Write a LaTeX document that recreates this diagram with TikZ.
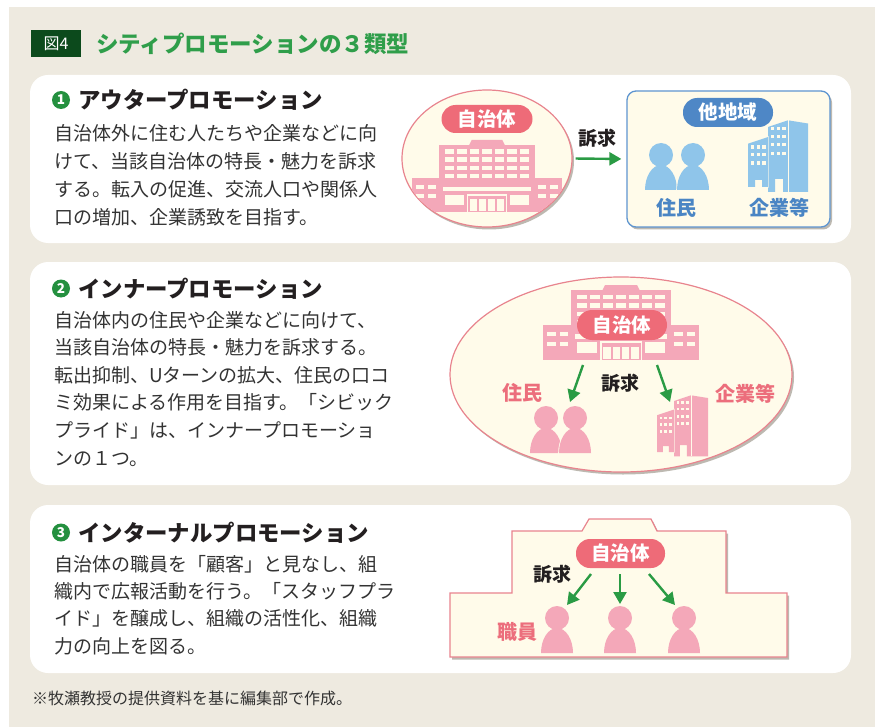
\documentclass[tikz,border=0pt]{standalone}
\usepackage{fontspec}
\setmainfont{Noto Sans CJK JP}
\usetikzlibrary{arrows.meta,shapes.geometric,shadows}

\definecolor{pagebg}{HTML}{EEEAE0}
\definecolor{titlegreen}{HTML}{2F9E4A}
\definecolor{tagdark}{HTML}{0C4A1C}
\definecolor{numgreen}{HTML}{24903F}
\definecolor{inkdark}{HTML}{231F20}
\definecolor{bodyink}{HTML}{333333}
\definecolor{cream}{HTML}{FFFBEA}
\definecolor{rimpink}{HTML}{E8848E}
\definecolor{pillred}{HTML}{EE6B78}
\definecolor{hallpink}{HTML}{F4A8B9}
\definecolor{textpink}{HTML}{EC6E7C}
\definecolor{rimblue}{HTML}{5E95D0}
\definecolor{pillblue}{HTML}{4E87C6}
\definecolor{iconblue}{HTML}{8FC5EA}
\definecolor{textblue}{HTML}{4A85C4}
\definecolor{arrowgreen}{HTML}{2A9B44}
\definecolor{shade}{HTML}{BDB9B1}

\tikzset{
  body/.style={anchor=base west, inner sep=0pt, text=bodyink, font=\fontsize{19}{19}\selectfont},
  heading/.style={anchor=base west, inner sep=0pt, text=inkdark, font=\bfseries\fontsize{22.4}{22.4}\selectfont},
  numdisc/.style={fill=numgreen},
  numtext/.style={inner sep=0pt, text=white, font=\bfseries\fontsize{13.5}{13.5}\selectfont},
  panel/.style={fill=white, rounded corners=18pt},
  pill/.style={rounded corners=14pt, minimum width=91pt, minimum height=28pt, inner sep=0pt, text=white, font=\bfseries\fontsize{19.5}{19.5}\selectfont},
  lbl/.style={inner sep=0pt, font=\bfseries\fontsize{20}{20}\selectfont},
  appeal/.style={inner sep=0pt, text=inkdark, font=\bfseries\fontsize{19}{19}\selectfont},
  flow/.style={draw=arrowgreen, line width=2.4pt, -{Triangle[length=12pt,width=13pt]}},
  softshadow/.style={drop shadow={shadow xshift=2pt, shadow yshift=-2.5pt, fill=shade, opacity=1}},
  % a person: origin at the bottom centre, y grows downwards
  pics/person/.style={code={
    \draw[cream, line width=1.6pt] (-16,0) arc[start angle=180, end angle=360, x radius=16, y radius=25] -- cycle;
    \draw[cream, line width=1.6pt] (0,-35) circle[radius=12];
    \fill (-16,0) arc[start angle=180, end angle=360, x radius=16, y radius=25] -- cycle;
    \fill (0,-35) circle[radius=12];
  }},
  % two office towers: origin at the bottom left of the low tower
  pics/office/.style={code={
    \fill (20,5) -- (20,-60) -- (40,-66.7) -- (40,5) -- (35,5) -- (35,-8) -- (27,-8) -- (27,5) -- cycle;
    \fill (40,5) -- (40,-66.7) -- (60,-63.5) -- (60,5) -- cycle;
    \draw[cream, line width=0.7pt] (40,5) -- (40,-66.7);
    \draw[cream, line width=1.2pt] (0,0) -- (0,-43.3) -- (20,-50) -- (20,0) -- (14,0) -- (14,-7) -- (7,-7) -- (7,0) -- cycle;
    \fill (0,0) -- (0,-43.3) -- (20,-50) -- (20,0) -- (14,0) -- (14,-7) -- (7,-7) -- (7,0) -- cycle;
    \foreach \c in {3,8.7,14.3}
      \foreach \r in {22.3,31,38.3}
        \fill[cream] (\c,-\r) rectangle (\c+3.3,-\r-3.4);
    \foreach \c in {23,28.7,34.3}
      \foreach \r in {32,40.5,49,57}
        \fill[cream] (\c,-\r) rectangle (\c+3.3,-\r-3.3);
  }},
  % town hall: origin at the bottom centre
  pics/cityhall/.style={code={
    \fill[hallpink] (-78,0) rectangle (78,-35);
    \fill[hallpink] (-50,0) rectangle (50,-70);
    \fill[hallpink] (-19,-69) -- (-16,-75) -- (16,-75) -- (19,-69) -- cycle;
    \foreach \r in {63,54.5,46,37.5}
      \foreach \c in {-39,-26,...,39}
        \fill[cream] (\c-5,-\r-2.3) rectangle (\c+5,-\r+2.3);
    \foreach \c in {-69.75,-57.25,57.25,69.75}
      \foreach \r in {26,16.5}
        \fill[cream] (\c-4.25,-\r-2) rectangle (\c+4.25,-\r+2);
    \fill[cream] (-46,-21.5) rectangle (46,-26.5);
    \fill[cream] (-44,-7) rectangle (-24,-18);
    \fill[cream] (24,-7) rectangle (44,-18);
    \fill[cream] (-21,0) rectangle (21,-19);
    \fill[hallpink] (-19.5,0) rectangle (19.5,-17);
    \foreach \c in {-14,-4.7,4.7,14}
      \fill[cream] (\c-3.6,-1.5) rectangle (\c+3.6,-13.5);
  }},
}

\begin{document}
\begin{tikzpicture}[x=1pt,y=-1pt]
\useasboundingbox (0,0) rectangle (877,727);
\fill[pagebg] (9,7) rectangle (875,727);

% title
\fill[tagdark] (31,30) rectangle (81,57);
\node[inner sep=0pt, text=white, font=\fontsize{16}{16}\selectfont] (tag) at (56,43.5) {図4};
\node[anchor=base west, inner sep=0pt, text=titlegreen, font=\bfseries\fontsize{22.5}{22.5}\selectfont] (title) at (96,52.5) {シティプロモーションの３類型};

% panels
\fill[panel] (30,75) rectangle (851,243);
\fill[panel] (30,262) rectangle (851,485);
\fill[panel] (30,505) rectangle (851,673);

% ---- 1: outer promotion ----
\fill[numdisc] (61,100) circle[radius=9];
\node[numtext] (n1) at (61,100) {1};
\node[heading] (h1) at (78,108.5) {アウタープロモーション};
\foreach \t [count=\i] in {自治体外に住む人たちや企業などに向,けて、当該自治体の特長・魅力を訴求,する。転入の促進、交流人口や関係人,口の増加、企業誘致を目指す。}
  \node[body] (pa\i) at (54,{141+27.7*(\i-1)}) {\t};

\node[ellipse, minimum width=170pt, minimum height=137pt, inner sep=0pt, draw=rimpink, line width=1.2pt, fill=cream, softshadow] (hall1) at (487,158.5) {};
\begin{scope}
  \clip (487,158.5) ellipse [x radius=84.4, y radius=67.9];
  \pic[shift={(487,212)}, scale=0.96] {cityhall};
\end{scope}
\node[pill, fill=pillred] (gov1) at (487,119) {自治体};

\node[rectangle, rounded corners=9pt, minimum width=203pt, minimum height=136pt, inner sep=0pt, draw=rimblue, line width=1.3pt, fill=cream, softshadow] (other) at (728.5,159) {};
\node[pill, fill=pillblue, minimum width=90pt, minimum height=29pt] (area) at (728,112.5) {他地域};
\pic[shift={(661,190)}, fill=iconblue] {person};
\pic[shift={(693,190)}, fill=iconblue] {person};
\pic[shift={(748,187)}, fill=iconblue] {office};
\node[lbl, text=textblue] (res1) at (676,208) {住民};
\node[lbl, text=textblue] (biz1) at (779,208) {企業等};

\node[appeal] (ap1) at (597,138) {訴求};
\draw[flow, shorten <=3pt, shorten >=5pt] (hall1.east) -- (other.west);

% ---- 2: inner promotion ----
\fill[numdisc] (61,288.5) circle[radius=9];
\node[numtext] (n2) at (61,288.5) {2};
\node[heading] (h2) at (78,297) {インナープロモーション};
\foreach \t [count=\i] in {自治体内の住民や企業などに向けて、,当該自治体の特長・魅力を訴求する。,転出抑制、Uターンの拡大、住民の口コ,ミ効果による作用を目指す。「シビック,プライド」は、インナープロモーショ,ンの１つ。}
  \node[body] (pb\i) at (54,{327+27.6*(\i-1)}) {\t};

\node[ellipse, minimum width=342pt, minimum height=195pt, inner sep=0pt, draw=rimpink, line width=1.2pt, fill=cream, softshadow] (town) at (621,374.5) {};
\pic[shift={(621,360)}] {cityhall};
\node[pill, fill=pillred, minimum width=90pt, minimum height=30pt, rounded corners=15pt] (gov2) at (622,325) {自治体};
\pic[shift={(546,453)}, fill=hallpink] {person};
\pic[shift={(575,453)}, fill=hallpink] {person};
\pic[shift={(657,452)}, scale=0.85, fill=hallpink] {office};
\node[lbl, text=textpink] (res2) at (522,393) {住民};
\node[lbl, text=textpink] (biz2) at (745,394) {企業等};
\node[appeal] (ap2) at (620,383) {訴求};
\coordinate (t2l) at (583,365);
\coordinate (e2l) at (570,402);
\coordinate (t2r) at (657,365);
\coordinate (e2r) at (670,402);
\draw[flow] (t2l) -- (e2l);
\draw[flow] (t2r) -- (e2r);

% ---- 3: internal promotion ----
\fill[numdisc] (61,532.5) circle[radius=9];
\node[numtext] (n3) at (61,532.5) {3};
\node[heading] (h3) at (78,541) {インターナルプロモーション};
\foreach \t [count=\i] in {自治体の職員を「顧客」と見なし、組,織内で広報活動を行う。「スタッフプラ,イド」を醸成し、組織の活性化、組織,力の向上を図る。}
  \node[body] (pc\i) at (54,{571+27.4*(\i-1)}) {\t};

\draw[rimpink, fill=cream, line width=1.2pt, softshadow]
  (450,657) -- (450,593) -- (512,593) -- (512,531) -- (582,531) -- (589,519)
  -- (651,519) -- (657,531) -- (726,531) -- (726,593) -- (787,593) -- (787,657) -- cycle;
\node[pill, fill=pillred, minimum width=89pt, minimum height=29pt] (gov3) at (620.5,553.5) {自治体};
\pic[shift={(557,653)}, fill=hallpink] {person};
\pic[shift={(620,653)}, fill=hallpink] {person};
\pic[shift={(684,653)}, fill=hallpink] {person};
\node[lbl, text=textpink] (staff) at (517,632) {職員};
\node[appeal] (ap3) at (552,574) {訴求};
\coordinate (t3l) at (591,574);
\coordinate (e3l) at (567,605);
\coordinate (t3m) at (620,574);
\coordinate (e3m) at (620,604);
\coordinate (t3r) at (649,574);
\coordinate (e3r) at (675,605);
\draw[flow] (t3l) -- (e3l);
\draw[flow] (t3m) -- (e3m);
\draw[flow] (t3r) -- (e3r);

% source note
\node[anchor=base west, inner sep=0pt, text=bodyink, font=\fontsize{16}{16}\selectfont] (note) at (32,704) {※牧瀬教授の提供資料を基に編集部で作成。};
\end{tikzpicture}
\end{document}
